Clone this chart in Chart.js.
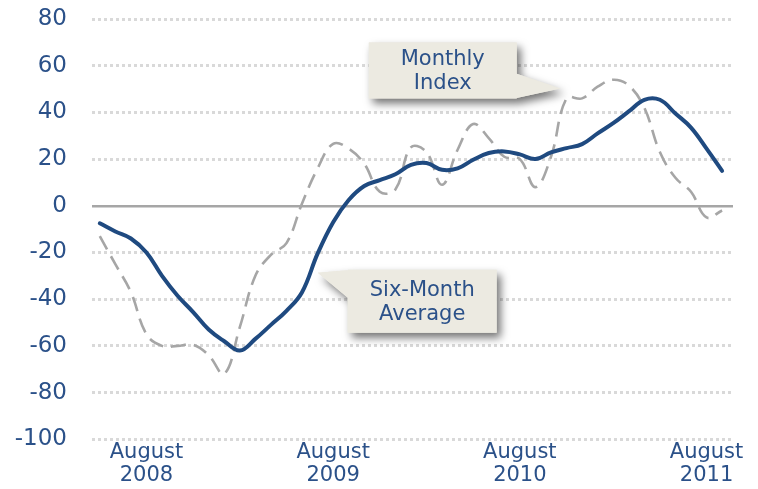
<!DOCTYPE html>
<html><head><meta charset="utf-8">
<script src="https://cdn.jsdelivr.net/npm/chart.js@4.4.1/dist/chart.umd.min.js"></script>
<style>html,body{margin:0;padding:0;background:#fff}canvas{display:block}</style>
</head><body>
<canvas id="c" width="758" height="489"></canvas>
<script>
const months = [
  "2008-05","2008-06","2008-07","2008-08","2008-09","2008-10","2008-11","2008-12",
  "2009-01","2009-02","2009-03","2009-04","2009-05","2009-06","2009-07","2009-08",
  "2009-09","2009-10","2009-11","2009-12","2010-01","2010-02","2010-03","2010-04",
  "2010-05","2010-06","2010-07","2010-08","2010-09","2010-10","2010-11","2010-12",
  "2011-01","2011-02","2011-03","2011-04","2011-05","2011-06","2011-07","2011-08","2011-09"
];
const sixMonthAverage = [
  -7.5, -11, -14, -20, -30, -38.5, -45.5, -53, -58, -62, -57, -51, -45, -37, -20.5, -7,
  2.5, 8.5, 11, 13.5, 17.5, 18.3, 15.4, 16, 19.7, 22.6, 23.3, 22, 20, 22.9, 24.7, 26.4,
  31, 35.4, 40.4, 45.4, 45.4, 39.5, 33.5, 24.5, 15
];
const monthlyIndex = [
  -13, -25, -37, -55, -60, -60, -59.5, -64, -72, -52, -30, -21, -16, 1, 16, 26.5,
  24.5, 18, 6, 7, 25, 23, 9, 24, 35, 29, 21, 20, 8, 21, 46, 46,
  51, 54, 51.5, 42, 23, 12, 6, -5, -2
];
const yMin = -100, yMax = 80, yStep = 20;
const xTickMonths = ["2008-08","2009-08","2010-08","2011-08"];
const xTickLabels = [["August","2008"],["August","2009"],["August","2010"],["August","2011"]];
const seriesNames = ["Six-Month Average","Monthly Index"];
const calloutMonthlyText = ["Monthly","Index"];
const calloutAverageText = ["Six-Month","Average"];

const TEXT = '#2B5189';
const FONT = 'DejaVu Sans';

// callouts anchored in data coordinates (x = month index, y = value)
const callouts = [
  { lines: calloutMonthlyText, x1: 17.29, x2: 26.8, y1: 69.9, y2: 45.9,
    tail: [[26.8, 56.5], [29.6, 50.2], [26.8, 46.2]] },
  { lines: calloutAverageText, x1: 15.94, x2: 25.51, y1: -27.4, y2: -54.4,
    tail: [[15.94, -27.6], [14.01, -28.7], [15.94, -39.4]] }
];

const calloutPlugin = {
  id: 'callouts',
  afterDatasetsDraw(chart) {
    const ctx = chart.ctx, xs = chart.scales.x, ys = chart.scales.y;
    callouts.forEach(c => {
      const l = xs.getPixelForValue(c.x1), r = xs.getPixelForValue(c.x2);
      const t = ys.getPixelForValue(c.y1), b = ys.getPixelForValue(c.y2);
      ctx.save();
      ctx.shadowColor = 'rgba(0,0,0,0.55)';
      ctx.shadowBlur = 9;
      ctx.shadowOffsetX = 4;
      ctx.shadowOffsetY = 5;
      ctx.fillStyle = '#ECEAE1';
      ctx.beginPath();
      ctx.rect(l, t, r - l, b - t);
      ctx.moveTo(xs.getPixelForValue(c.tail[0][0]), ys.getPixelForValue(c.tail[0][1]));
      ctx.lineTo(xs.getPixelForValue(c.tail[1][0]), ys.getPixelForValue(c.tail[1][1]));
      ctx.lineTo(xs.getPixelForValue(c.tail[2][0]), ys.getPixelForValue(c.tail[2][1]));
      ctx.closePath();
      ctx.fill();
      ctx.shadowColor = 'transparent';
      ctx.fill();
      ctx.fillStyle = TEXT;
      ctx.font = '21px "' + FONT + '"';
      ctx.textAlign = 'center';
      ctx.textBaseline = 'middle';
      const cx = (l + r) / 2, cy = (t + b) / 2 + 1, lh = 24;
      c.lines.forEach((s, i) => {
        ctx.fillText(s, cx, cy + (i - (c.lines.length - 1) / 2) * lh);
      });
      ctx.restore();
    });
  }
};

new Chart(document.getElementById('c'), {
  type: 'line',
  data: {
    datasets: [
      {
        label: seriesNames[0],
        data: sixMonthAverage.map((v, i) => ({ x: i, y: v })),
        borderColor: '#1F4A80',
        borderWidth: 4,
        borderCapStyle: 'round',
        borderJoinStyle: 'round',
        pointRadius: 0,
        tension: 0.4,
        fill: false
      },
      {
        label: seriesNames[1],
        data: monthlyIndex.map((v, i) => ({ x: i, y: v })),
        borderColor: '#A6A6A6',
        borderWidth: 2.6,
        borderDash: [15, 8],
        pointRadius: 0,
        tension: 0.4,
        fill: false
      }
    ]
  },
  options: {
    responsive: false,
    devicePixelRatio: 1,
    animation: false,
    layout: { padding: { top: 19, right: 25, left: 0, bottom: 0 } },
    plugins: { legend: { display: false }, tooltip: { enabled: false } },
    scales: {
      x: {
        type: 'linear',
        min: -0.5,
        max: months.length - 1 + 0.7,
        grid: { display: false, drawTicks: false },
        border: { display: false },
        afterBuildTicks: s => { s.ticks = xTickMonths.map(m => ({ value: months.indexOf(m) })); },
        afterFit: s => { s.height = 49.7; s.paddingLeft = 0; s.paddingRight = 0; },
        ticks: {
          autoSkip: false, maxRotation: 0, padding: 2,
          color: TEXT,
          font: { family: FONT, size: 21, lineHeight: 1.1 },
          callback: v => xTickLabels[xTickMonths.indexOf(months[v])]
        }
      },
      y: {
        min: yMin, max: yMax,
        grid: {
          drawTicks: false,
          color: c => (c.tick && c.tick.value === 0) ? '#A6A6A6' : '#D9D9D9',
          lineWidth: c => (c.tick && c.tick.value === 0) ? 2.5 : 3
        },
        border: {
          display: false,
          dash: c => (c.tick && c.tick.value === 0) ? [] : [3, 3]
        },
        afterFit: s => { s.width = 92; s.paddingTop = 0; s.paddingBottom = 0; },
        ticks: {
          stepSize: yStep, padding: 25,
          color: TEXT,
          font: { family: FONT, size: 23 }
        }
      }
    }
  },
  plugins: [calloutPlugin]
});
</script>
</body></html>
